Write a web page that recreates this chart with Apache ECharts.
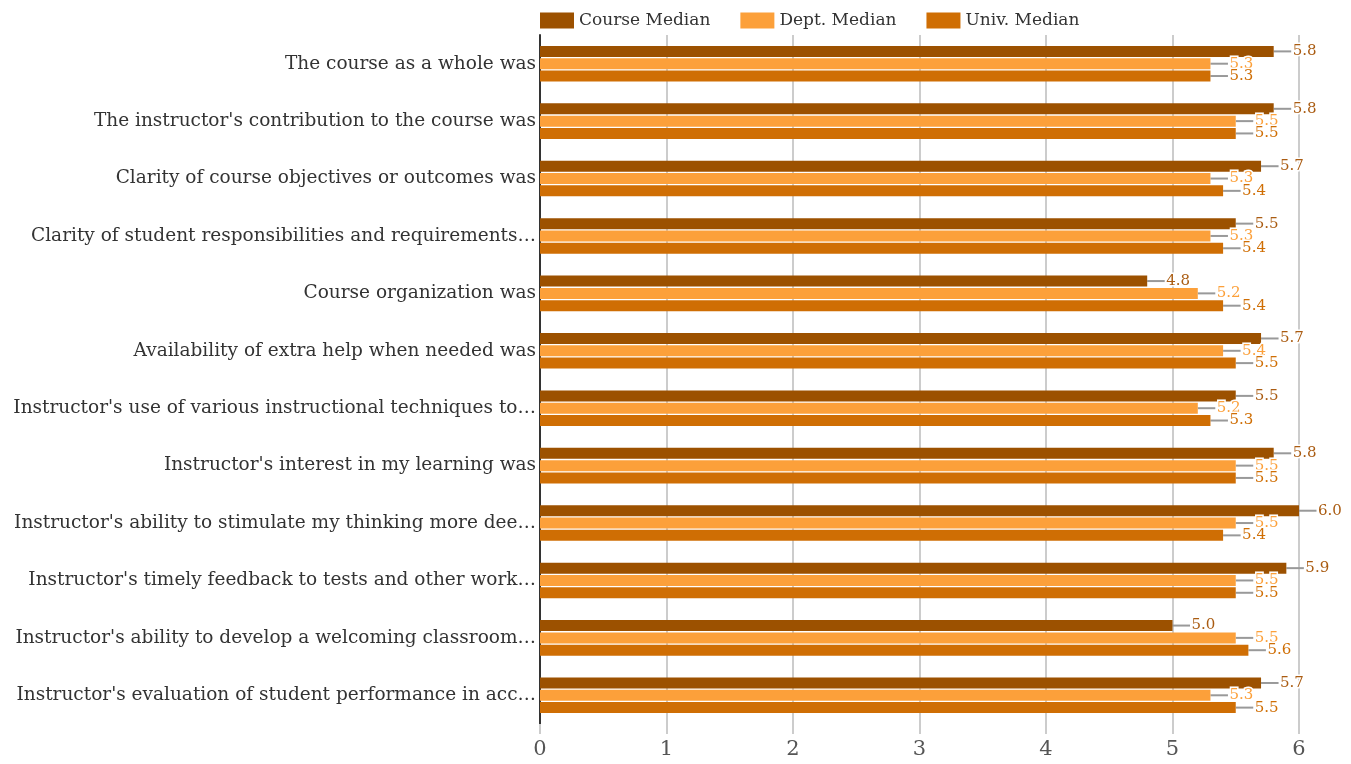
<!DOCTYPE html>
<html><head><meta charset="utf-8">
<script src="https://cdn.jsdelivr.net/npm/echarts@6/dist/echarts.min.js"></script>
<style>html,body{margin:0;padding:0;background:#fff}#c{width:1351px;height:764px}</style>
</head><body><div id="c"></div>
<script>
const categories = [
  "The course as a whole was",
  "The instructor's contribution to the course was",
  "Clarity of course objectives or outcomes was",
  "Clarity of student responsibilities and requirements…",
  "Course organization was",
  "Availability of extra help when needed was",
  "Instructor's use of various instructional techniques to…",
  "Instructor's interest in my learning was",
  "Instructor's ability to stimulate my thinking more dee…",
  "Instructor's timely feedback to tests and other work…",
  "Instructor's ability to develop a welcoming classroom…",
  "Instructor's evaluation of student performance in acc…"
];
const courseMedian = [5.8, 5.8, 5.7, 5.5, 4.8, 5.7, 5.5, 5.8, 6.0, 5.9, 5.0, 5.7];
const deptMedian   = [5.3, 5.5, 5.3, 5.3, 5.2, 5.4, 5.2, 5.5, 5.5, 5.5, 5.5, 5.3];
const univMedian   = [5.3, 5.5, 5.4, 5.4, 5.4, 5.5, 5.3, 5.5, 5.4, 5.5, 5.6, 5.5];
const xTicks = [0, 1, 2, 3, 4, 5, 6];

const font = "'DejaVu Serif', serif";
function mk(name, data, color, labelColor) {
  return {
    name, type: 'bar', data, barWidth: 11, barGap: '12%', barCategoryGap: '38%',
    itemStyle: { color },
    label: {
      show: true, position: 'right', distance: 0,
      formatter: p => p.value.toFixed(1),
      color: labelColor, fontFamily: font, fontSize: 15,
      textBorderColor: '#fff', textBorderWidth: 3
    },
    labelLayout: { dx: 19 },
    labelLine: { show: true, lineStyle: { color: '#999', width: 2 } }
  };
}
const chart = echarts.init(document.getElementById('c'));
chart.setOption({
  animation: false,
  textStyle: { fontFamily: font },
  legend: {
    top: 7, left: 535, itemWidth: 34, itemHeight: 16, itemGap: 30, icon: 'rect',
    textStyle: { fontFamily: font, fontSize: 17, color: '#333' }
  },
  grid: { left: 540, right: 52, top: 35, bottom: 40, containLabel: false },
  xAxis: {
    type: 'value', min: 0, max: 6, interval: 1,
    axisLine: { show: false },
    axisTick: { show: true, length: 10, lineStyle: { color: '#ccc', width: 2 } },
    splitLine: { show: true, lineStyle: { color: '#ccc', width: 2 } },
    axisLabel: { fontFamily: font, fontSize: 21, color: '#555', margin: 15,
      formatter: v => xTicks.includes(v) ? String(v) : '' }
  },
  yAxis: {
    type: 'category', data: categories, inverse: true,
    axisLine: { show: true, lineStyle: { color: '#333', width: 2 } },
    axisTick: { show: false },
    axisLabel: { fontFamily: font, fontSize: 18.5, color: '#333', margin: 4 }
  },
  series: [
    mk('Course Median', courseMedian, '#9c5100', '#aa5c12'),
    mk('Dept. Median', deptMedian, '#fca03a', '#fca03a'),
    mk('Univ. Median', univMedian, '#cf6e04', '#cf6e04')
  ]
});
</script></body></html>
